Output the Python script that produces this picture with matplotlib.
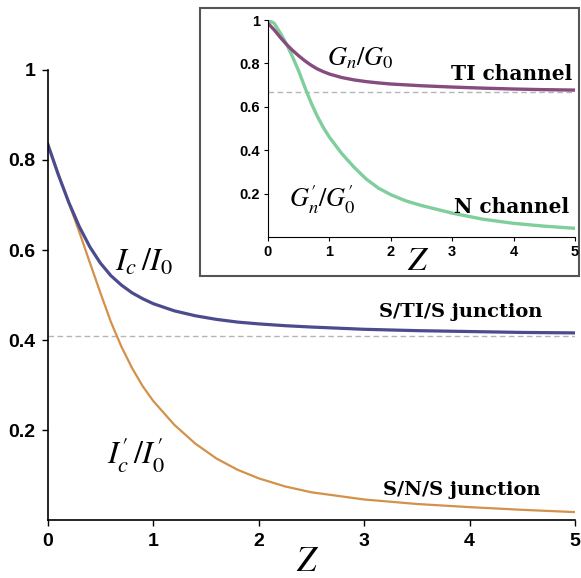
from matplotlib import pyplot as plt
from matplotlib.patches import Rectangle

# Data
z = [0, 0.1, 0.2, 0.3, 0.4, 0.5, 0.6, 0.7, 0.8, 0.9, 1.0,
     1.2, 1.4, 1.6, 1.8, 2.0, 2.25, 2.5, 3.0, 3.5, 4.0, 4.5, 5.0]
ic_ti = [0.836, 0.768, 0.706, 0.652, 0.607, 0.571, 0.543, 0.522, 0.505, 0.492, 0.481,
         0.465, 0.454, 0.446, 0.440, 0.436, 0.432, 0.429, 0.424, 0.421, 0.419, 0.417, 0.416]
ic_n = [0.836, 0.770, 0.705, 0.640, 0.572, 0.505, 0.440, 0.385, 0.338, 0.298, 0.265,
        0.212, 0.170, 0.137, 0.112, 0.093, 0.075, 0.062, 0.046, 0.036, 0.029, 0.023, 0.018]
gn_ti = [0.985, 0.955, 0.920, 0.888, 0.860, 0.835, 0.812, 0.792, 0.775, 0.762, 0.751,
         0.735, 0.724, 0.716, 0.710, 0.705, 0.701, 0.697, 0.691, 0.686, 0.682, 0.679, 0.677]
gn_n = [1.0, 0.985, 0.940, 0.890, 0.830, 0.765, 0.690, 0.620, 0.558, 0.505, 0.460,
        0.385, 0.322, 0.267, 0.225, 0.195, 0.166, 0.145, 0.110, 0.082, 0.063, 0.050, 0.040]
ti_limit = 0.41
g_limit = 2/3

main_xticks = [0, 1, 2, 3, 4, 5]
main_yticks = [0.2, 0.4, 0.6, 0.8, 1.0]
main_ylabels = ['0.2', '0.4', '0.6', '0.8', '1']

plt.rcParams['mathtext.fontset'] = 'stix'

fig = plt.figure(figsize=(5.81, 5.78), dpi=100)

# Main axes
ax = fig.add_axes([0.082, 0.100, 0.908, 0.779])
ax.plot(z, ic_n, color='#d3914a', lw=1.6, solid_capstyle='round')
ax.plot(z, ic_ti, color='#4b4b8e', lw=2.3, solid_capstyle='round')
ax.axhline(ti_limit, color='#b5b5b5', lw=1.0, ls=(0, (4, 2.5)), zorder=0)

ax.set_xlim(0, 5)
ax.set_ylim(0, 1)
ax.spines['top'].set_visible(False)
ax.spines['right'].set_visible(False)
ax.spines['left'].set_linewidth(1.2)
ax.spines['bottom'].set_linewidth(1.2)
ax.set_xticks(main_xticks)
ax.set_xticklabels([str(t) for t in main_xticks])
ax.set_yticks(main_yticks)
ax.set_yticklabels(main_ylabels)
ax.tick_params(length=4, width=1.0, labelsize=14, pad=5)
for lab in ax.get_xticklabels() + ax.get_yticklabels():
    lab.set_fontweight('bold')
    lab.set_family('Liberation Sans')

fig.text(308/581, 1-561/578, r'$Z$', fontsize=25, ha='center', va='center')
fig.text(144/581, 1-262/578, r"$I_{c}\,/I_{0}$", fontsize=23, ha='center', va='center')
fig.text(136/581, 1-455/578, r"$I^{\prime}_{c}\,/I^{\prime}_{0}$", fontsize=23, ha='center', va='center')
fig.text(461/581, 1-312/578, 'S/TI/S junction', fontsize=14, fontweight='bold',
         family='DejaVu Serif', ha='center', va='center')
fig.text(462/581, 1-490/578, 'S/N/S junction', fontsize=14, fontweight='bold',
         family='DejaVu Serif', ha='center', va='center')

# Inset frame
fig.patches.append(Rectangle((200/581, 1-276/578), 379/581, 268/578,
                             transform=fig.transFigure, fill=True, facecolor='white',
                             edgecolor='#555555', lw=1.5, zorder=2))

# Inset axes
ins = fig.add_axes([268/581, 1-237/578, 307/581, 217/578], zorder=3)
ins.patch.set_alpha(0)
ins.plot(z, gn_n, color='#7fce9c', lw=2.4, solid_capstyle='round')
ins.plot(z, gn_ti, color='#864c7e', lw=2.4, solid_capstyle='round')
ins.axhline(g_limit, color='#b5b5b5', lw=1.0, ls=(0, (4, 2.5)), zorder=0)
ins.set_xlim(0, 5)
ins.set_ylim(0, 1)
ins.spines['top'].set_visible(False)
ins.spines['right'].set_visible(False)
ins.set_xticks(main_xticks)
ins.set_xticklabels([str(t) for t in main_xticks])
ins.set_yticks(main_yticks)
ins.set_yticklabels(main_ylabels)
ins.tick_params(length=3, width=0.8, labelsize=10.5, pad=3)
for lab in ins.get_xticklabels() + ins.get_yticklabels():
    lab.set_fontweight('bold')
    lab.set_family('Liberation Sans')

fig.text(418/581, 1-261/578, r'$Z$', fontsize=24, ha='center', va='center', zorder=4)
fig.text(360/581, 1-58/578, r"$G_{n}/G_{0}$", fontsize=19, ha='center', va='center', zorder=4)
fig.text(322/581, 1-200/578, r"$G^{\prime}_{n}/G^{\prime}_{0}$", fontsize=19, ha='center', va='center', zorder=4)
fig.text(512/581, 1-74/578, 'TI channel', fontsize=14.5, fontweight='bold',
         family='DejaVu Serif', ha='center', va='center', zorder=4)
fig.text(512/581, 1-207/578, 'N channel', fontsize=14.5, fontweight='bold',
         family='DejaVu Serif', ha='center', va='center', zorder=4)

plt.savefig('out.png', dpi=100, facecolor='white')
plt.close()
